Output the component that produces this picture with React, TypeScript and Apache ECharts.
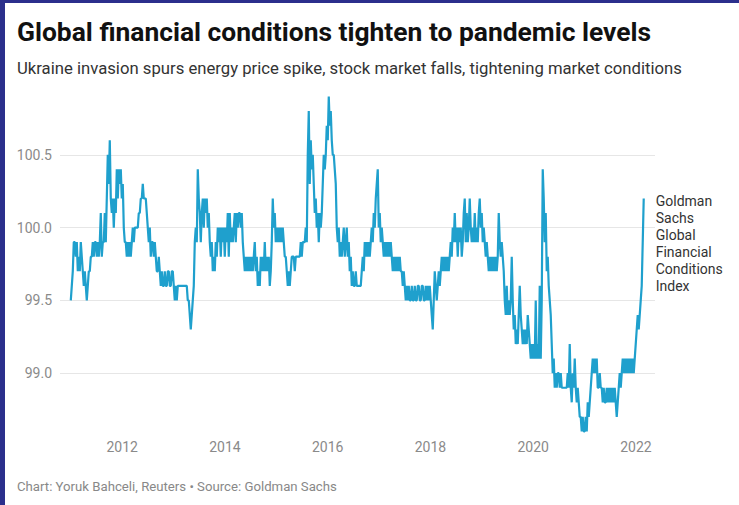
import React, { useEffect, useRef } from "react";
import * as echarts from "echarts";

const TITLE = "Global financial conditions tighten to pandemic levels";
const SUBTITLE =
  "Ukraine invasion spurs energy price spike, stock market falls, tightening market conditions";
const FOOTER = "Chart: Yoruk Bahceli, Reuters • Source: Goldman Sachs";
const SERIES_LABEL = "Goldman\nSachs\nGlobal\nFinancial\nConditions\nIndex";

const xTicks = [2012, 2014, 2016, 2018, 2020, 2022];
const yTicks = [99.0, 99.5, 100.0, 100.5];

// weekly observations starting at the beginning of 2011
const startYear = 2011.0;
const weekStep = 0.01946;

const gsfci: number[] = [
  99.5, 99.6, 99.7, 99.9, 99.9, 99.8, 99.9, 99.7, 99.8, 99.7,
  99.9, 99.8, 99.7, 99.6, 99.7, 99.6, 99.5, 99.6, 99.7, 99.7,
  99.8, 99.8, 99.9, 99.8, 99.9, 99.9, 99.8, 99.9, 99.8, 99.9,
  100.1, 99.8, 99.9, 99.9, 100.1, 99.9, 100.2, 100.5, 100.3, 100.6,
  100.2, 100.1, 100.2, 100.0, 100.2, 100.1, 100.4, 100.2, 100.4, 100.3,
  100.4, 100.2, 100.3, 100.0, 99.9, 99.9, 99.8, 99.9, 99.8, 99.9,
  99.8, 99.9, 100.0, 99.9, 100.0, 100.0, 100.0, 100.0, 100.1, 100.1,
  100.2, 100.2, 100.3, 100.2, 100.2, 100.2, 100.1, 100.0, 99.9, 100.0,
  99.8, 99.9, 99.9, 99.8, 99.9, 99.8, 99.7, 99.7, 99.8, 99.7,
  99.6, 99.7, 99.6, 99.6, 99.7, 99.6, 99.6, 99.7, 99.7, 99.6,
  99.6, 99.7, 99.7, 99.6, 99.5, 99.6, 99.5, 99.6, 99.6, 99.6,
  99.6, 99.6, 99.6, 99.6, 99.6, 99.6, 99.6, 99.5, 99.5, 99.4,
  99.3, 99.4, 99.5, 99.6, 99.9, 100.0, 99.9, 100.4, 100.2, 100.1,
  99.9, 100.1, 100.2, 100.0, 100.2, 100.1, 100.2, 100.0, 100.1, 99.9,
  99.8, 99.9, 99.7, 99.8, 99.7, 99.9, 99.8, 100.0, 99.9, 100.0,
  99.8, 100.0, 99.9, 100.0, 99.8, 100.0, 99.9, 100.1, 99.8, 100.1,
  99.9, 100.0, 99.9, 100.0, 100.1, 99.9, 100.1, 100.0, 100.1, 100.1,
  100.0, 100.1, 99.9, 99.8, 99.7, 99.8, 99.7, 99.8, 99.7, 99.8,
  99.7, 99.8, 99.7, 99.8, 99.9, 99.7, 99.8, 99.6, 99.7, 99.6,
  99.8, 99.7, 99.8, 99.7, 99.9, 99.7, 99.8, 99.7, 99.8, 99.6,
  99.7, 99.9, 100.2, 100.0, 100.1, 99.9, 100.0, 99.9, 100.0, 99.9,
  100.0, 99.9, 100.0, 99.9, 99.8, 99.8, 99.7, 99.6, 99.7, 99.6,
  99.7, 99.8, 99.8, 99.8, 99.7, 99.8, 99.8, 99.8, 99.8, 99.8,
  99.9, 99.8, 99.9, 99.9, 99.9, 100.0, 99.9, 100.5, 100.8, 100.3,
  100.6, 100.4, 100.5, 100.3, 100.1, 100.2, 100.0, 100.1, 99.9, 100.1,
  100.0, 100.1, 100.3, 100.5, 100.4, 100.5, 100.7, 100.6, 100.9, 100.7,
  100.8, 100.6, 100.5, 100.5, 100.4, 100.3, 100.0, 99.9, 100.0, 99.8,
  99.9, 99.8, 99.9, 100.0, 99.8, 99.9, 100.0, 99.8, 99.9, 99.7,
  99.8, 99.6, 99.7, 99.6, 99.6, 99.7, 99.6, 99.6, 99.6, 99.6,
  99.6, 99.7, 99.8, 99.7, 99.9, 99.8, 99.9, 99.8, 99.9, 99.8,
  99.9, 100.0, 99.9, 100.1, 100.0, 100.2, 100.3, 100.4, 100.0, 100.1,
  99.9, 100.0, 99.9, 99.8, 99.9, 99.8, 99.9, 99.8, 99.9, 99.8,
  99.9, 99.8, 99.7, 99.8, 99.7, 99.8, 99.7, 99.8, 99.7, 99.8,
  99.7, 99.7, 99.6, 99.7, 99.6, 99.5, 99.6, 99.5, 99.6, 99.5,
  99.5, 99.6, 99.5, 99.5, 99.6, 99.5, 99.5, 99.6, 99.6, 99.5,
  99.5, 99.6, 99.6, 99.5, 99.5, 99.6, 99.5, 99.6, 99.5, 99.6,
  99.5, 99.4, 99.3, 99.5, 99.7, 99.6, 99.5, 99.6, 99.7, 99.6,
  99.7, 99.8, 99.7, 99.8, 99.7, 99.8, 99.7, 99.8, 99.7, 99.8,
  99.9, 99.8, 100.0, 99.9, 100.1, 99.9, 100.0, 99.8, 100.0, 99.9,
  100.0, 99.8, 99.9, 100.1, 100.2, 99.9, 100.1, 99.9, 100.0, 100.2,
  100.0, 99.9, 100.0, 99.9, 100.1, 99.9, 100.0, 99.9, 100.1, 100.2,
  100.0, 100.1, 99.9, 100.0, 99.9, 99.8, 99.9, 99.8, 99.7, 99.8,
  99.7, 99.8, 99.7, 99.8, 99.7, 99.8, 99.7, 99.8, 100.1, 99.9,
  99.8, 99.9, 99.8, 99.7, 99.5, 99.4, 99.6, 99.4, 99.5, 99.4,
  99.5, 99.8, 99.5, 99.3, 99.4, 99.2, 99.3, 99.2, 99.4, 99.6,
  99.4, 99.3, 99.2, 99.3, 99.2, 99.3, 99.2, 99.4, 99.3, 99.2,
  99.1, 99.2, 99.1, 99.2, 99.1, 99.5, 99.1, 99.2, 99.1, 99.6,
  99.1, 99.5, 100.4, 100.2, 99.9, 100.1, 99.7, 99.8, 99.6, 99.5,
  99.4, 99.2, 99.0, 99.1, 98.9, 99.0, 98.9, 99.0, 99.0, 98.9,
  99.0, 98.9, 98.9, 98.9, 98.9, 98.9, 98.9, 99.0, 98.9, 99.2,
  98.9, 98.8, 99.0, 98.9, 99.1, 98.9, 98.8, 98.9, 98.8, 98.7,
  98.7, 98.6, 98.7, 98.6, 98.6, 98.7, 98.6, 98.8, 98.7, 98.8,
  98.9, 99.0, 99.1, 99.0, 99.1, 99.0, 99.1, 98.9, 98.9, 99.0,
  98.9, 98.9, 98.8, 98.9, 98.8, 98.8, 98.9, 98.8, 98.9, 98.8,
  98.9, 98.8, 98.9, 98.8, 98.9, 98.8, 98.7, 98.8, 98.9, 99.0,
  98.9, 99.0, 99.1, 99.0, 99.1, 99.0, 99.1, 99.0, 99.1, 99.0,
  99.1, 99.0, 99.1, 99.0, 99.1, 99.2, 99.3, 99.4, 99.3, 99.4,
  99.5, 99.6, 99.9, 100.2,
];

const weeks: number[] = gsfci.map((_, i) => startYear + i * weekStep);

export default function App() {
  const ref = useRef<HTMLDivElement>(null);

  useEffect(() => {
    document.body.style.margin = "0";
    if (!ref.current) return;
    const chart = echarts.init(ref.current, undefined, { renderer: "svg" });
    const font = "Roboto, 'Noto Sans', sans-serif";
    chart.setOption({
      animation: false,
      backgroundColor: "#ffffff",
      textStyle: { fontFamily: font },
      title: [
        {
          text: TITLE,
          left: 17,
          top: 19,
          padding: 0,
          textStyle: { fontFamily: font, fontSize: 26.4, fontWeight: "bold", color: "#111111" },
        },
        {
          text: SUBTITLE,
          left: 17,
          top: 60,
          padding: 0,
          textStyle: { fontFamily: font, fontSize: 16.7, fontWeight: "normal", color: "#333333" },
        },
        {
          text: FOOTER,
          left: 17,
          top: 480,
          padding: 0,
          textStyle: { fontFamily: font, fontSize: 13.2, fontWeight: "normal", color: "#888888" },
        },
      ],
      grid: { left: 60, right: 84, top: 82, bottom: 59, containLabel: false },
      xAxis: {
        type: "value",
        min: 2010.79,
        max: 2022.37,
        axisLine: { show: false },
        axisTick: { show: false },
        splitLine: { show: false },
        axisLabel: {
          customValues: xTicks,
          formatter: (v: number) => String(Math.round(v)),
          color: "#8a8a8a",
          fontSize: 14,
          margin: -6,
          fontFamily: font,
        },
      },
      yAxis: {
        type: "value",
        min: 98.5,
        max: 101.0,
        interval: 0.5,
        axisLine: { show: false },
        axisTick: { show: false },
        axisLabel: {
          showMinLabel: false,
          showMaxLabel: false,
          formatter: (v: number) => (yTicks.indexOf(v) >= 0 ? v.toFixed(1) : ""),
          color: "#8a8a8a",
          fontSize: 14,
          margin: 8,
          fontFamily: font,
        },
        splitLine: {
          show: true,
          showMinLine: false,
          showMaxLine: false,
          lineStyle: { color: "#e6e6e6", width: 1 },
        },
      },
      series: [
        {
          type: "line",
          data: weeks.map((w, i) => [w, gsfci[i]]),
          showSymbol: false,
          lineStyle: { color: "#1fa0cd", width: 2.2 },
          itemStyle: { color: "#1fa0cd" },
          endLabel: {
            show: true,
            formatter: () => SERIES_LABEL,
            color: "#333333",
            fontSize: 14,
            lineHeight: 17,
            fontFamily: font,
            distance: 12,
            align: "left",
            verticalAlign: "top",
            offset: [0, -6],
          },
        },
      ],
    });
    return () => chart.dispose();
  }, []);

  return (
    <div style={{ position: "relative", width: 739, height: 505 }}>
      <div ref={ref} style={{ position: "absolute", left: 0, top: 0, width: 739, height: 505 }} />
      <div style={{ position: "absolute", left: 0, top: 0, width: 5, height: 505, background: "#2b2f8c" }} />
      <div style={{ position: "absolute", left: 0, top: 0, width: 739, height: 3, background: "#2b2f8c" }} />
    </div>
  );
}
